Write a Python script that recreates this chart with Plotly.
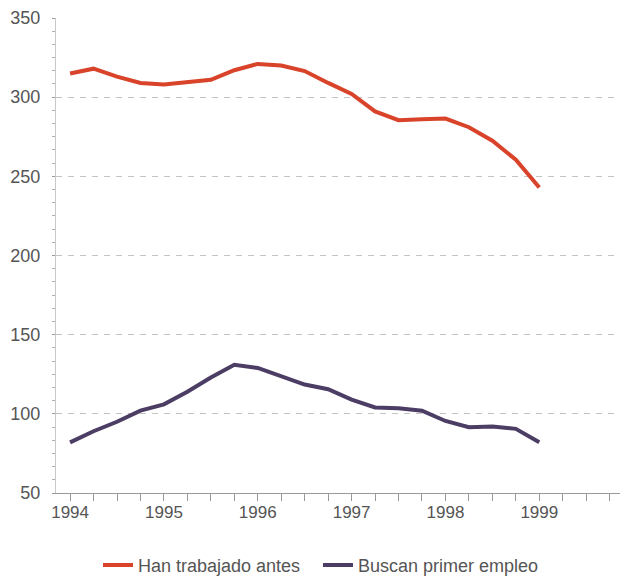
import plotly.graph_objects as go

# Quarterly observations, 1994 Q1 to 1999 Q1 (thousands)
quarters = [1994.0, 1994.25, 1994.5, 1994.75,
            1995.0, 1995.25, 1995.5, 1995.75,
            1996.0, 1996.25, 1996.5, 1996.75,
            1997.0, 1997.25, 1997.5, 1997.75,
            1998.0, 1998.25, 1998.5, 1998.75,
            1999.0]

han_trabajado = [315, 318, 313, 309,
                 308, 309.5, 311, 317,
                 321, 320, 316.5, 309,
                 302, 291, 285.5, 286,
                 286.5, 281, 272.5, 260.5,
                 243]

buscan_empleo = [82, 89, 95, 102,
                 106, 114, 123, 131,
                 129, 124, 118.5, 115.5,
                 109, 104, 103.5, 102,
                 95.5, 91.5, 92, 90.5,
                 82]

year_ticks = [1994, 1995, 1996, 1997, 1998, 1999]
value_ticks = [50, 100, 150, 200, 250, 300, 350]

ORANGE = "#d8432a"
PURPLE = "#4b3d63"
TICK_GREY = "#9a9a9a"
TEXT_GREY = "#555555"

fig = go.Figure()
fig.add_trace(go.Scatter(x=quarters, y=han_trabajado, mode="lines",
                         name="Han trabajado antes",
                         line=dict(color=ORANGE, width=4)))
fig.add_trace(go.Scatter(x=quarters, y=buscan_empleo, mode="lines",
                         name="Buscan primer empleo",
                         line=dict(color=PURPLE, width=4)))

x_range = [1993.85, 1999.86]
y_range = [50, 350]

fig.update_layout(
    width=620, height=577,
    margin=dict(l=56, r=0, t=18, b=84, autoexpand=False),
    paper_bgcolor="white", plot_bgcolor="white",
    font=dict(family="Liberation Sans, Arial, sans-serif", color=TEXT_GREY),
    showlegend=True,
    legend=dict(orientation="h", x=(98 - 56) / 564, xanchor="left",
                y=-0.152, yanchor="middle",
                font=dict(size=18, color=TEXT_GREY),
                itemwidth=30, entrywidth=175, entrywidthmode="pixels",
                traceorder="normal"),
    xaxis=dict(range=x_range, tickvals=year_ticks,
               tickfont=dict(size=17, color=TEXT_GREY),
               showgrid=False, zeroline=False,
               showline=True, linecolor=TICK_GREY, linewidth=1,
               ticks="outside", ticklen=7, tickcolor=TICK_GREY,
               ticklabelstandoff=-3,
               minor=dict(dtick=0.25, tick0=1994, ticks="outside",
                          ticklen=7, tickcolor=TICK_GREY, showgrid=False)),
    xaxis2=dict(range=x_range, overlaying="x", matches="x",
                tickvals=year_ticks, showticklabels=False,
                showgrid=False, zeroline=False, showline=False,
                ticks="inside", ticklen=5, tickcolor=TICK_GREY,
                minor=dict(dtick=0.25, tick0=1994, ticks="inside",
                           ticklen=5, tickcolor=TICK_GREY, showgrid=False)),
    yaxis=dict(range=y_range, tickvals=value_ticks,
               tickfont=dict(size=18, color=TEXT_GREY),
               showgrid=True, gridcolor="#c4c4c4", gridwidth=1,
               griddash="6px,6px",
               zeroline=False,
               showline=True, linecolor="#c8c8c8", linewidth=1,
               ticks="outside", ticklen=3, tickcolor=TICK_GREY,
               ticklabelstandoff=8,
               minor=dict(dtick=50 / 6, tick0=50, ticks="outside",
                          ticklen=3, tickcolor="#b0b0b0", showgrid=False)),
)

fig.write_html("out.html")
